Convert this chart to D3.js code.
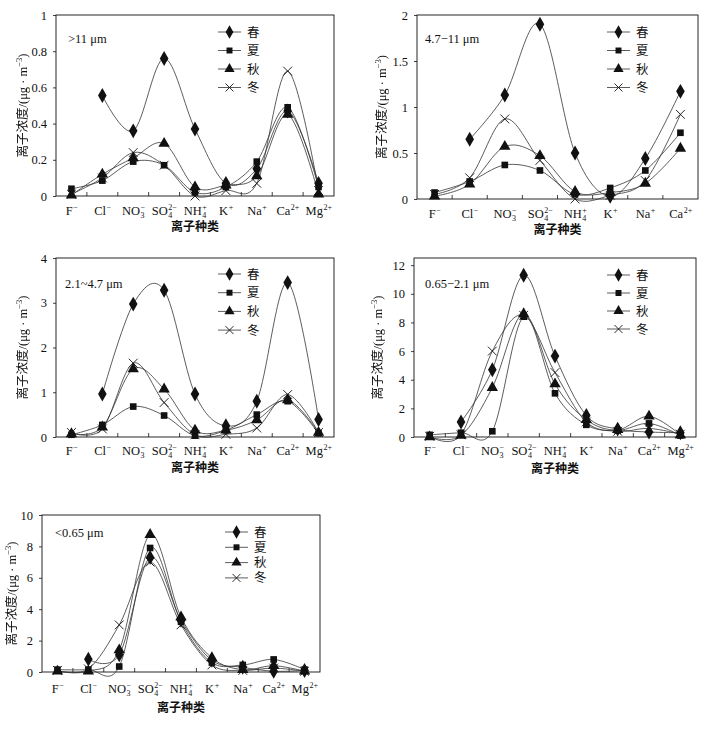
<!DOCTYPE html>
<html><head><meta charset="utf-8">
<script src="https://cdn.jsdelivr.net/npm/d3@7"></script>
<style>body{margin:0;background:#fff}</style></head>
<body><svg id="c" width="724" height="731"></svg>
<script>
// ---- categories ----
const ionBase = ["F","Cl","NO","SO","NH","K","Na","Ca","Mg"];
const ionSub  = ["","","3","4","4","","","",""];
const ionSup  = ["−","−","−","2−","+","+","+","2+","2+"];
const seasons = ["春","夏","秋","冬"];

// ---- >11 μm ----
const p1Spring = [null,0.555,0.36,0.76,0.37,0.07,0.15,0.47,0.07];
const p1Summer = [0.04,0.085,0.19,0.17,0.02,0.05,0.19,0.49,0.05];
const p1Autumn = [0.005,0.12,0.21,0.29,0.05,0.06,0.11,0.45,0.01];
const p1Winter = [0.01,0.10,0.24,0.17,0.0,0.03,0.07,0.69,0.03];
const p1Ticks  = [0,0.2,0.4,0.6,0.8,1];

// ---- 4.7–11 μm (F..Ca) ----
const p2Spring = [null,0.65,1.13,1.9,0.5,0.03,0.44,1.17];
const p2Summer = [0.07,0.19,0.37,0.31,0.05,0.12,0.31,0.72];
const p2Autumn = [0.03,0.16,0.57,0.47,0.08,0.07,0.17,0.55];
const p2Winter = [0.05,0.23,0.87,0.42,0.0,0.04,0.20,0.92];
const p2Ticks  = [0,0.5,1,1.5,2];

// ---- 2.1~4.7 μm ----
const p3Spring = [null,0.96,2.97,3.28,0.96,0.25,0.8,3.45,0.39];
const p3Summer = [0.05,0.27,0.68,0.48,0.03,0.15,0.5,0.8,0.08];
const p3Autumn = [0.07,0.22,1.52,1.07,0.15,0.15,0.38,0.83,0.1];
const p3Winter = [0.1,0.18,1.65,0.77,0.05,0.06,0.2,0.95,0.1];
const p3Ticks  = [0,1,2,3,4];

// ---- 0.65–2.1 μm ----
const p4Spring = [null,1.05,4.7,11.3,5.65,1.5,0.55,0.35,0.3];
const p4Summer = [0.15,0.3,0.4,8.4,3.05,0.85,0.45,0.95,0.1];
const p4Autumn = [0.0,0.1,3.45,8.6,3.7,1.2,0.5,1.45,0.15];
const p4Winter = [0.05,0.15,6.0,8.5,4.5,1.05,0.4,0.6,0.2];
const p4Ticks  = [0,2,4,6,8,10,12];

// ---- <0.65 μm ----
const p5Spring = [null,0.82,1.1,7.3,3.3,0.75,0.3,0.05,0.1];
const p5Summer = [0.15,0.15,0.35,7.9,3.2,0.6,0.45,0.8,0.15];
const p5Autumn = [0.05,0.05,1.4,8.75,3.5,0.9,0.15,0.4,0.05];
const p5Winter = [0.1,0.2,3.0,7.0,3.0,0.45,0.1,0.25,0.05];
const p5Ticks  = [0,2,4,6,8,10];

const panels = [
  {label:">11 μm", series:[p1Spring,p1Summer,p1Autumn,p1Winter], n:9, yMax:1, ticks:p1Ticks,
   L:56,R:334,T:15,B:196, legX:218, legY:32, legDy:18.5, annX:68, annY:43, yTitleX:27, xLabY:215, xTitleY:231},
  {label:"4.7−11 μm", series:[p2Spring,p2Summer,p2Autumn,p2Winter], n:8, yMax:2, ticks:p2Ticks,
   L:417,R:698,T:15,B:199, legX:607, legY:32, legDy:18.5, annX:425, annY:43, yTitleX:386, xLabY:218, xTitleY:234},
  {label:"2.1~4.7 μm", series:[p3Spring,p3Summer,p3Autumn,p3Winter], n:9, yMax:4, ticks:p3Ticks,
   L:56,R:334,T:258,B:437, legX:218, legY:274, legDy:18.7, annX:65, annY:288, yTitleX:27, xLabY:455, xTitleY:472},
  {label:"0.65−2.1 μm", series:[p4Spring,p4Summer,p4Autumn,p4Winter], n:9, yMax:12.5, ticks:p4Ticks,
   L:414,R:696,T:258,B:437, legX:607, legY:275, legDy:18, annX:425, annY:288, yTitleX:382, xLabY:455, xTitleY:473},
  {label:"<0.65 μm", series:[p5Spring,p5Summer,p5Autumn,p5Winter], n:9, yMax:10, ticks:p5Ticks,
   L:42,R:320,T:515,B:672, legX:225, legY:532, legDy:15.3, annX:55, annY:537, yTitleX:16, xLabY:693, xTitleY:712}
];

const svg = d3.select("#c");
const SERIF = "'Liberation Serif','Times New Roman',serif";
const CJK = "'Liberation Serif','Noto Sans CJK SC',serif";
const ink = "#111";

// grayscale filter to avoid colour fringes on rotated text
const flt = svg.append("defs").append("filter").attr("id", "gray")
  .attr("x", "-20%").attr("y", "-20%").attr("width", "140%").attr("height", "140%");
flt.append("feColorMatrix").attr("type", "saturate").attr("values", 0);

function marker(g, kind, x, y, scale) {
  scale = scale || 1;
  if (kind === 3) {
    const s = 4.4 * scale;
    g.append("path").attr("d", `M${x-s},${y-s}L${x+s},${y+s}M${x-s},${y+s}L${x+s},${y-s}`)
      .attr("stroke", ink).attr("stroke-width", 0.9).attr("fill", "none");
  } else {
    const sym = [d3.symbolDiamond, d3.symbolSquare, d3.symbolTriangle][kind];
    const size = [64, 44, 56][kind] * scale * scale;
    g.append("path").attr("d", d3.symbol().type(sym).size(size)())
      .attr("transform", `translate(${x},${y})`).attr("fill", ink);
  }
}

panels.forEach(p => {
  const g = svg.append("g");
  const cats = d3.range(p.n);
  const x = d3.scalePoint().domain(cats).range([p.L, p.R]).padding(0.5);
  const xb = d3.scaleBand().domain(cats).range([p.L, p.R]);
  const y = d3.scaleLinear().domain([0, p.yMax]).range([p.B, p.T]);

  // frame
  g.append("rect").attr("x", p.L).attr("y", p.T).attr("width", p.R - p.L).attr("height", p.B - p.T)
    .attr("fill", "none").attr("stroke", ink).attr("stroke-width", 0.9);

  // y axis ticks (outward) and labels
  const ya = d3.axisLeft(y).tickValues(p.ticks).tickSize(3).tickPadding(6).tickFormat(d3.format("~g"));
  const yg = g.append("g").attr("transform", `translate(${p.L},0)`).call(ya);
  yg.select(".domain").remove();
  yg.selectAll("line").attr("stroke", ink).attr("stroke-width", 0.8);
  yg.selectAll("text").attr("font-family", SERIF).attr("font-size", 12.5).attr("fill", ink);

  // x ticks at band boundaries, inward
  cats.slice(1).forEach(i => {
    g.append("line").attr("x1", xb(i)).attr("x2", xb(i)).attr("y1", p.B).attr("y2", p.B - 4)
      .attr("stroke", ink).attr("stroke-width", 0.8);
  });

  // category labels
  cats.forEach(i => {
    const t = g.append("text").attr("font-family", SERIF).attr("font-size", 12.5).attr("fill", ink)
      .attr("y", p.xLabY).text(ionBase[i]);
    const w = t.node().getComputedTextLength();
    const sup = g.append("text").attr("font-family", SERIF).attr("font-size", 8).attr("fill", ink)
      .attr("y", p.xLabY - 5.5).text(ionSup[i]);
    const sub = g.append("text").attr("font-family", SERIF).attr("font-size", 8).attr("fill", ink)
      .attr("y", p.xLabY + 2.5).text(ionSub[i]);
    const ws = Math.max(sup.node().getComputedTextLength(), sub.node().getComputedTextLength());
    const x0 = x(i) - (w + ws) / 2;
    t.attr("x", x0); sup.attr("x", x0 + w + 0.5); sub.attr("x", x0 + w + 0.5);
  });

  // curves
  const line = d3.line().defined(d => d.v != null).x(d => x(d.i)).y(d => y(d.v))
    .curve(d3.curveCardinal.tension(0));
  p.series.forEach((s, k) => {
    const pts = s.map((v, i) => ({i, v})).filter(d => d.v != null);
    g.append("path").attr("d", line(pts)).attr("fill", "none").attr("stroke", "#333").attr("stroke-width", 0.8);
  });
  p.series.forEach((s, k) => {
    s.forEach((v, i) => { if (v != null) marker(g, k, x(i), y(v)); });
  });

  // legend
  seasons.forEach((name, k) => {
    const ly = p.legY + k * p.legDy;
    g.append("line").attr("x1", p.legX).attr("x2", p.legX + 23).attr("y1", ly).attr("y2", ly)
      .attr("stroke", "#333").attr("stroke-width", 0.8);
    marker(g, k, p.legX + 11.5, ly, 0.9);
    g.append("text").attr("x", p.legX + 29).attr("y", ly + 4.5).attr("font-family", CJK)
      .attr("font-size", 12.5).attr("fill", ink).text(name);
  });

  // size annotation
  g.append("text").attr("x", p.annX).attr("y", p.annY).attr("font-family", SERIF)
    .attr("font-size", 12.5).attr("fill", ink).text(p.label);

  // y title
  const cy = (p.T + p.B) / 2;
  const ytg = g.append("g").attr("filter", "url(#gray)");
  const yt = ytg.append("text").attr("transform", `translate(${p.yTitleX},${cy}) rotate(-90)`)
    .attr("text-anchor", "middle").attr("font-family", CJK).attr("font-size", 12.5).attr("fill", ink);
  yt.append("tspan").text("离子浓度/(μg · m");
  yt.append("tspan").attr("font-size", 8.5).attr("dy", -5).text("−3");
  yt.append("tspan").attr("dy", 5).text(")");

  // x title
  g.append("text").attr("x", (p.L + p.R) / 2).attr("y", p.xTitleY).attr("text-anchor", "middle")
    .attr("font-family", CJK).attr("font-size", 12).attr("font-weight", "bold").attr("fill", ink).text("离子种类");
});
</script>
</body></html>
